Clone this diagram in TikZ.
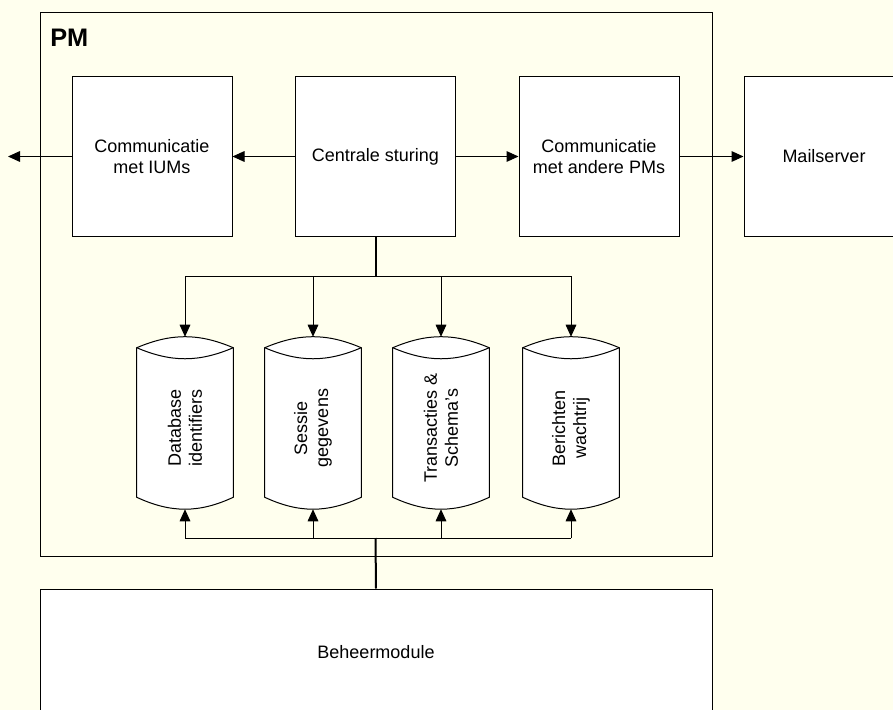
\documentclass[tikz,border=0pt]{standalone}
\usepackage{fontspec}
\setmainfont{Liberation Sans}
\usetikzlibrary{arrows.meta}
\definecolor{paper}{RGB}{255,255,238}
\tikzset{
	box/.style={draw=black, fill=white, line width=0.75pt, inner sep=0pt, align=center,
		font=\fontsize{13.5}{15.75}\selectfont},
	store/.style={inner sep=0pt, minimum width=72pt, minimum height=111.75pt},
	link/.style={line width=0.75pt, -{Triangle[length=9pt,width=8pt]}},
	bus/.style={line width=1.5pt},
}
\begin{document}
\begin{tikzpicture}[x=0.75pt, y=-0.75pt]
	\clip (0,0) rectangle (893,710);
	\fill[paper] (0,0) rectangle (893,710);
	\draw[black, line width=0.75pt] (40,13) rectangle (712,556);
	\node[anchor=base west, inner sep=0pt, font=\bfseries\fontsize{19}{22}\selectfont] (pm) at (50,47) {PM};

	\node[box, minimum width=120pt, minimum height=119.25pt] (ium) at (152,156.5) {Communicatie\\met IUMs};
	\node[box, minimum width=120pt, minimum height=119.25pt] (cs) at (375.5,156.5) {Centrale sturing};
	\node[box, minimum width=120pt, minimum height=119.25pt] (cpm) at (599,156.5) {Communicatie\\met andere PMs};
	\node[box, minimum width=120pt, minimum height=119.25pt] (mail) at (824,156.5) {Mailserver};
	\coordinate (out) at (8,156.5);

	\foreach \n/\x/\t in {db/185/{Database\\identifiers}, ses/313/{Sessie\\gegevens},
		tr/441/{Transacties \&\\Schema's}, wq/571/{Berichten\\wachtrij}}{
		\node[store] (\n) at (\x,422.5) {};
		\draw[fill=white, line width=0.75pt] (\n.north west) to[bend left=23] (\n.north east)
			-- (\n.south east) to[bend left=25] (\n.south west) -- cycle;
		\draw[line width=0.75pt] (\n.north west) to[bend right=23] (\n.north east);
		\node[rotate=90, align=center, inner sep=0pt, font=\fontsize{13.5}{15.75}\selectfont] (\n-text) at (\x,428) {\t};
		\coordinate (\n-top) at ([yshift=8.25pt]\n.north);
		\coordinate (\n-bot) at ([yshift=-9pt]\n.south);
	}

	\node[box, minimum width=504pt, minimum height=94.5pt] (bm) at (376,652) {Beheermodule};

	\draw[link] (ium.west) -- (out);
	\draw[link] (cs.west) -- (ium.east);
	\draw[link] (cs.east) -- (cpm.west);
	\draw[link] (cpm.east) -- (mail.west);

	\coordinate (split) at (375.5,276);
	\coordinate (join) at (375.5,538);
	\draw[bus] (cs.south) -- (split);
	\draw[line width=0.75pt] (db-top |- split) -- (wq-top |- split);
	\draw[line width=0.75pt] (db-bot |- join) -- (wq-bot |- join);
	\draw[bus] (join) -- (bm.north);
	\foreach \s in {db,ses,tr,wq}{
		\draw[link] (\s-top |- split) -- (\s-top);
		\draw[link] (\s-bot |- join) -- (\s-bot);
	}
\end{tikzpicture}
\end{document}
